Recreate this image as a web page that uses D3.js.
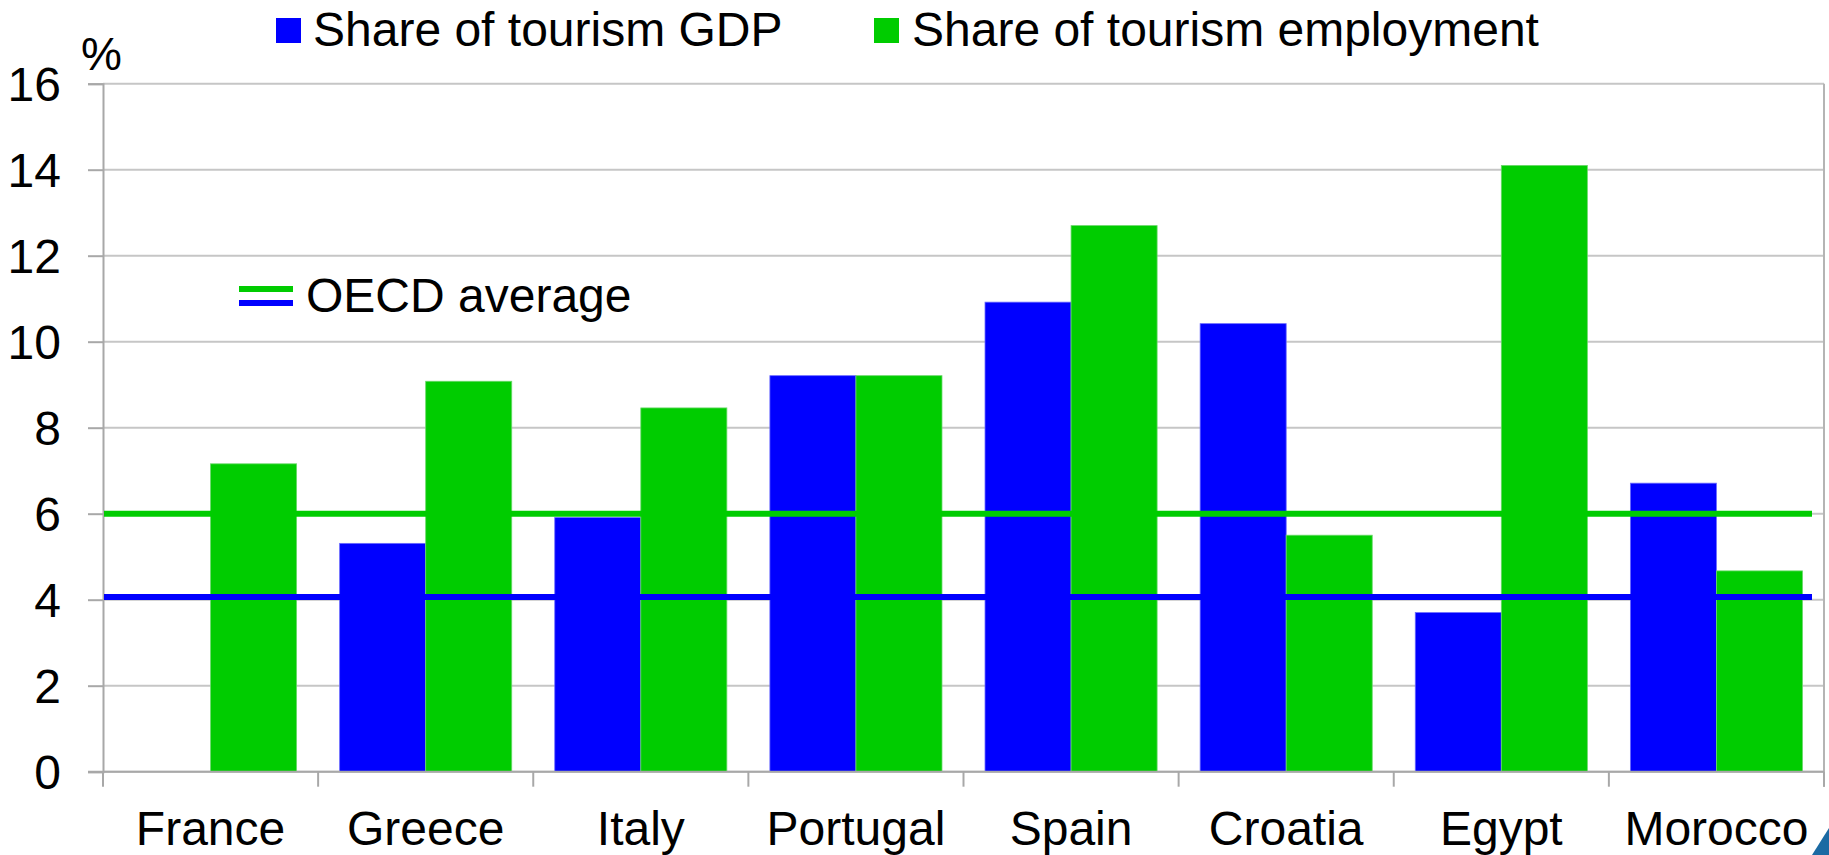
<!DOCTYPE html>
<html>
<head>
<meta charset="utf-8">
<script src="https://cdn.jsdelivr.net/npm/d3@7"></script>
<style>
  html, body { margin: 0; padding: 0; background: #fff; }
  svg { display: block; font-family: "Liberation Sans", Arial, sans-serif; }
</style>
</head>
<body>
<svg id="chart" width="1829" height="855"></svg>
<script>
// ---- data ----
const countries = ["France", "Greece", "Italy", "Portugal", "Spain", "Croatia", "Egypt", "Morocco"];
const seriesNames = ["Share of tourism GDP", "Share of tourism employment"];
const tourismGDP = [null, 5.31, 5.91, 9.21, 10.92, 10.42, 3.70, 6.71];
const tourismEmployment = [7.16, 9.08, 8.46, 9.21, 12.70, 5.50, 14.10, 4.67];
const oecdAvgGDP = 4.06;
const oecdAvgEmployment = 6.0;
const yTicks = [0, 2, 4, 6, 8, 10, 12, 14, 16];
const legendOECD = "OECD average";
const yUnit = "%";

(function () {
const colors = ["#0000ff", "#00cc00"];

const svg = d3.select("#chart");
const pLeft = 103, pRight = 1824, pTop = 83.7, pBottom = 771.7;

const x0 = d3.scaleBand().domain(countries).range([pLeft, pRight]).padding(0);
const x1 = d3.scaleBand().domain([0, 1]).range([0, x0.bandwidth()]).paddingInner(0).paddingOuter(0.25);
const y = d3.scaleLinear().domain([0, 16]).range([pBottom, pTop]);

// gridlines
svg.append("g")
  .selectAll("line").data(yTicks).join("line")
  .attr("x1", pLeft).attr("x2", pRight)
  .attr("y1", d => y(d)).attr("y2", d => y(d))
  .attr("stroke", "#c6c6c6").attr("stroke-width", 2);

// right border
svg.append("line").attr("x1", pRight).attr("x2", pRight).attr("y1", pTop).attr("y2", pBottom + 15)
  .attr("stroke", "#b4b4b4").attr("stroke-width", 2);

// y axis
const yAxis = svg.append("g").attr("transform", `translate(${pLeft},0)`)
  .call(d3.axisLeft(y).tickValues(yTicks).tickSize(15).tickPadding(27).tickFormat(d3.format("d")));
yAxis.select(".domain").attr("stroke", "#a8a8a8").attr("stroke-width", 2);
yAxis.selectAll(".tick line").attr("stroke", "#a8a8a8").attr("stroke-width", 2);
yAxis.selectAll(".tick text").attr("font-size", 48).attr("fill", "#000")
  .attr("font-family", '"Liberation Sans", Arial, sans-serif').attr("dy", "0.35em");

// bars
const rows = countries.map((c, i) => ({ c, vals: [tourismGDP[i], tourismEmployment[i]] }));
const groups = svg.append("g").selectAll("g").data(rows).join("g")
  .attr("transform", d => `translate(${x0(d.c)},0)`);
groups.selectAll("rect").data(d => d.vals.map((v, k) => ({ v, k })).filter(e => e.v != null)).join("rect")
  .attr("x", e => x1(e.k))
  .attr("width", x1.bandwidth())
  .attr("y", e => y(e.v))
  .attr("height", e => y(0) - y(e.v))
  .attr("fill", e => colors[e.k])
  .attr("stroke", e => e.k === 0 ? "#6a6aff" : "#6ad86a")
  .attr("stroke-width", 0.8);

// x axis
const xAxis = svg.append("g").attr("transform", `translate(0,${pBottom})`);
xAxis.append("line").attr("x1", pLeft - 15).attr("x2", pRight).attr("y1", 0).attr("y2", 0)
  .attr("stroke", "#a8a8a8").attr("stroke-width", 2);
const bounds = countries.map(c => x0(c)).concat([pRight]);
xAxis.selectAll("line.tk").data(bounds).join("line").attr("class", "tk")
  .attr("x1", d => d).attr("x2", d => d).attr("y1", 0).attr("y2", 15)
  .attr("stroke", "#a8a8a8").attr("stroke-width", 2);
xAxis.selectAll("text").data(countries).join("text")
  .attr("x", d => x0(d) + x0.bandwidth() / 2)
  .attr("y", 845 - pBottom)
  .attr("text-anchor", "middle").attr("font-size", 48).attr("fill", "#000")
  .text(d => d);

// OECD average lines
const lineEnd = 1812;
svg.append("line").attr("x1", pLeft + 1).attr("x2", lineEnd)
  .attr("y1", y(oecdAvgEmployment)).attr("y2", y(oecdAvgEmployment))
  .attr("stroke", colors[1]).attr("stroke-width", 6);
svg.append("line").attr("x1", pLeft + 1).attr("x2", lineEnd)
  .attr("y1", y(oecdAvgGDP)).attr("y2", y(oecdAvgGDP))
  .attr("stroke", colors[0]).attr("stroke-width", 6);

// OECD legend
svg.append("line").attr("x1", 239).attr("x2", 293).attr("y1", 289).attr("y2", 289)
  .attr("stroke", colors[1]).attr("stroke-width", 6);
svg.append("line").attr("x1", 239).attr("x2", 293).attr("y1", 303).attr("y2", 303)
  .attr("stroke", colors[0]).attr("stroke-width", 6);
svg.append("text").attr("x", 306).attr("y", 312).attr("font-size", 48).attr("fill", "#000")
  .text(legendOECD);

// top legend
const legendPos = [{ sx: 276, tx: 313 }, { sx: 874, tx: 912 }];
seriesNames.forEach((name, k) => {
  svg.append("rect").attr("x", legendPos[k].sx).attr("y", 18).attr("width", 25).attr("height", 25)
    .attr("fill", colors[k]);
  svg.append("text").attr("x", legendPos[k].tx).attr("y", 46).attr("font-size", 48).attr("fill", "#000")
    .text(name);
});

// unit label
svg.append("text").attr("x", 81).attr("y", 70).attr("font-size", 46).attr("fill", "#000").text(yUnit);

// corner decoration
svg.append("polygon").attr("points", "1812,855 1829,828 1829,855").attr("fill", "#1b6aa3");
})();
</script>
</body>
</html>
